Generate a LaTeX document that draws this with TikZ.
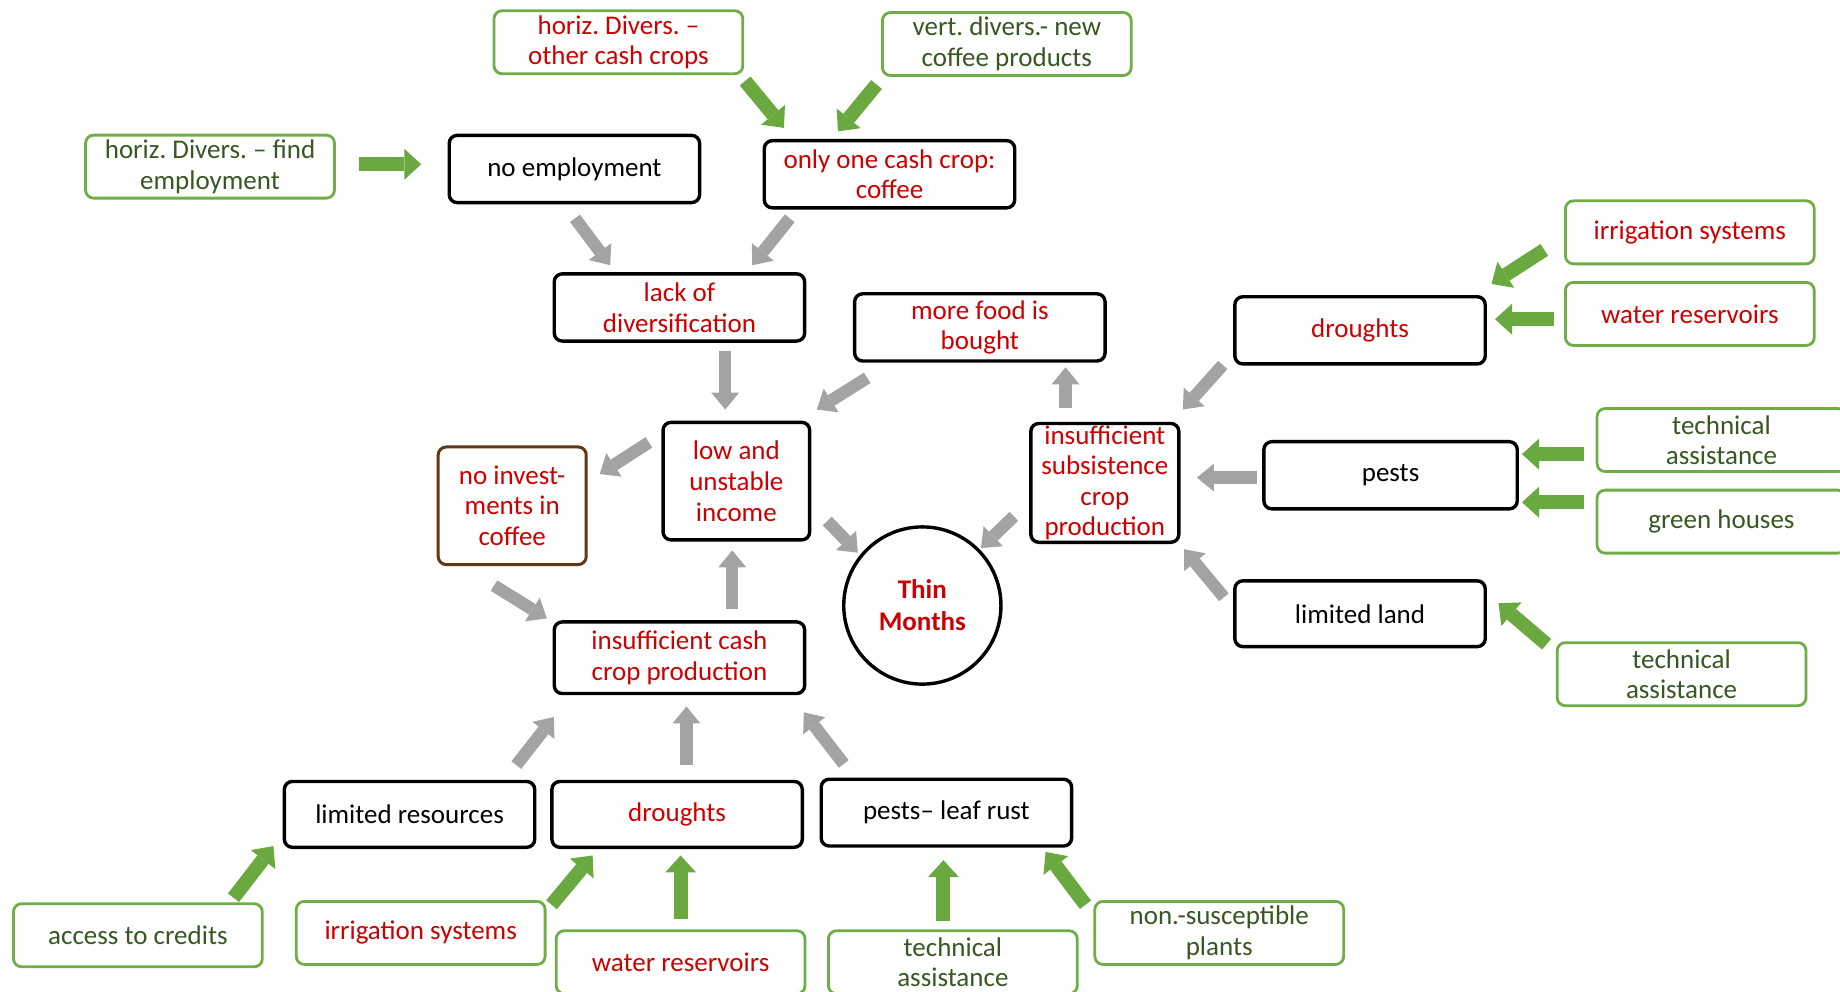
\documentclass[tikz,border=0pt]{standalone}
\usepackage{fontspec}
\setmainfont{Carlito}
\usetikzlibrary{arrows.meta}
\definecolor{txtred}{RGB}{204,0,0}
\definecolor{txtgreen}{RGB}{56,87,35}
\definecolor{boxgreen}{RGB}{112,173,71}
\definecolor{arrgreen}{RGB}{106,168,64}
\definecolor{arrgray}{RGB}{163,163,163}
\definecolor{boxbrown}{RGB}{96,56,20}
\frenchspacing

\begin{document}
\begin{tikzpicture}[x=0.5867pt,y=-0.5867pt,
  txt/.style={font=\fontsize{13.5}{15.3}\selectfont, align=center, inner sep=1pt},
  greenbox/.style={txt, draw=boxgreen, line width=1.4pt, rounded corners=4pt, fill=white,
    minimum width=124.4pt, minimum height=31.5pt},
  blackbox/.style={txt, draw=black, line width=1.7pt, rounded corners=4pt, fill=white,
    minimum width=125.2pt, minimum height=33.6pt},
  tallbox/.style={blackbox, minimum width=74pt, minimum height=58.8pt},
  redtxt/.style={text=txtred},
  greentxt/.style={text=txtgreen},
  grayarr/.style={draw=arrgray, line width=6.2pt,
    -{Triangle[width=14pt,length=8.5pt,line width=0pt]}},
  greenarr/.style={draw=arrgreen, line width=7pt,
    -{Triangle[width=15.5pt,length=8.5pt,line width=0pt]}},
]
\useasboundingbox (0,0) rectangle (1568,845);
\clip (0,0) rectangle (1568,845);

% measures: green boxes
\node[greenbox, redtxt]   (hdcash)  at (527,36)    {horiz. Divers. –\\other cash crops};
\node[greenbox, greentxt] (vdnew)   at (858,37.5)  {vert. divers.- new\\coffee products};
\node[greenbox, greentxt] (hdemp)   at (179,142)   {horiz. Divers. – find\\employment};
\node[greenbox, redtxt]   (irrR)    at (1440,198)  {irrigation systems};
\node[greenbox, redtxt]   (waterR)  at (1440,267.5){water reservoirs};
\node[greenbox, greentxt] (techA)   at (1467,375)  {technical\\assistance};
\node[greenbox, greentxt] (green)   at (1467,444.5){green houses};
\node[greenbox, greentxt] (techB)   at (1433,574.5){technical\\assistance};
\node[greenbox, greentxt] (credit)  at (117.5,797) {access to credits};
\node[greenbox, redtxt]   (irrB)    at (358.5,795) {irrigation systems};
\node[greenbox, redtxt]   (waterB)  at (580,820)   {water reservoirs};
\node[greenbox, greentxt] (techC)   at (812,820)   {technical\\assistance};
\node[greenbox, greentxt] (nonsus)  at (1039,795)  {non.-susceptible\\plants};

% problems
\node[blackbox]                              (noemp)  at (489.5,144)  {no employment};
\node[blackbox, redtxt]                      (onecash)at (758,148.5)  {only one cash crop:\\coffee};
\node[blackbox, redtxt]                      (lackdiv)at (579,262)    {lack of\\diversification};
\node[blackbox, redtxt]                      (food)   at (835,279)    {more food is\\bought};
\node[blackbox, redtxt]                      (drR)    at (1159,281.5) {droughts};
\node[tallbox, redtxt, minimum width=73.3pt] (income) at (627.5,410)  {low and\\unstable\\income};
\node[tallbox, redtxt, draw=boxbrown, line width=1.5pt] (noinv) at (436.5,431) {no invest-\\ments in\\coffee};
\node[tallbox, redtxt, minimum height=59.3pt](subs)   at (941.5,411.5){insufficient\\subsistence\\crop\\production};
\node[blackbox, minimum width=126.7pt]       (pests)  at (1185,405)   {pests};
\node[blackbox, minimum height=32.9pt]       (land)   at (1159,523)   {limited land};
\node[blackbox, redtxt, minimum height=35.8pt](cashprod) at (579,560.5) {insufficient cash\\crop production};
\node[blackbox, minimum height=32.9pt]       (limres) at (349,694)    {limited resources};
\node[blackbox, redtxt, minimum height=32.9pt](drB)   at (577,694)    {droughts};
\node[blackbox, minimum height=33.4pt]       (rust)   at (806.5,692.5){pests– leaf rust};

\node[txt, circle, draw=black, line width=1.7pt, minimum size=78.6pt, text=txtred,
      font=\fontsize{13.5}{16}\selectfont\bfseries] (thin) at (786,516) {Thin\\Months};

% arrow end points
\coordinate (a1s) at (490,186);  \coordinate (a1e) at (520,226);
\coordinate (a2s) at (673,186);  \coordinate (a2e) at (641,226);
\coordinate (a3s) at (618,299);  \coordinate (a3e) at (618,349);
\coordinate (a4s) at (739,322);  \coordinate (a4e) at (696,349);
\coordinate (a5s) at (553,377);  \coordinate (a5e) at (511,404);
\coordinate (a6s) at (705,444);  \coordinate (a6e) at (731,471);
\coordinate (a7s) at (864,440);  \coordinate (a7e) at (836,467);
\coordinate (a8s) at (908,348);  \coordinate (a8e) at (908,313);
\coordinate (a9s) at (1042,311); \coordinate (a9e) at (1008,349);
\coordinate (a10s) at (1071,407);\coordinate (a10e) at (1020,407);
\coordinate (a11s) at (1043,509);\coordinate (a11e) at (1009,468);
\coordinate (a12s) at (421,499); \coordinate (a12e) at (466,527);
\coordinate (a13s) at (624,519); \coordinate (a13e) at (624,469);
\coordinate (a14s) at (440,652); \coordinate (a14e) at (472,611);
\coordinate (a15s) at (585,652); \coordinate (a15e) at (585,602);
\coordinate (a16s) at (719,651); \coordinate (a16e) at (685,607);

\coordinate (g1s) at (635,69);   \coordinate (g1e) at (668,109);
\coordinate (g2s) at (747,72);   \coordinate (g2e) at (714,112);
\coordinate (g3s) at (306,140);  \coordinate (g3e) at (359,140);
\coordinate (g4s) at (1316,213); \coordinate (g4e) at (1271,242);
\coordinate (g5s) at (1324,272); \coordinate (g5e) at (1274,272);
\coordinate (g6s) at (1350,387); \coordinate (g6e) at (1297,387);
\coordinate (g7s) at (1350,428); \coordinate (g7e) at (1297,428);
\coordinate (g8s) at (1318,549); \coordinate (g8e) at (1277,514);
\coordinate (g9s) at (199,765);  \coordinate (g9e) at (233,721);
\coordinate (g10s) at (470,771); \coordinate (g10e) at (505,729);
\coordinate (g11s) at (580,783); \coordinate (g11e) at (580,729);
\coordinate (g12s) at (804,785); \coordinate (g12e) at (804,733);
\coordinate (g13s) at (925,771); \coordinate (g13e) at (891,726);

\foreach \i in {1,...,16} \draw[grayarr] (a\i s) -- (a\i e);
\foreach \i in {1,...,13} \draw[greenarr] (g\i s) -- (g\i e);
\end{tikzpicture}
\end{document}
